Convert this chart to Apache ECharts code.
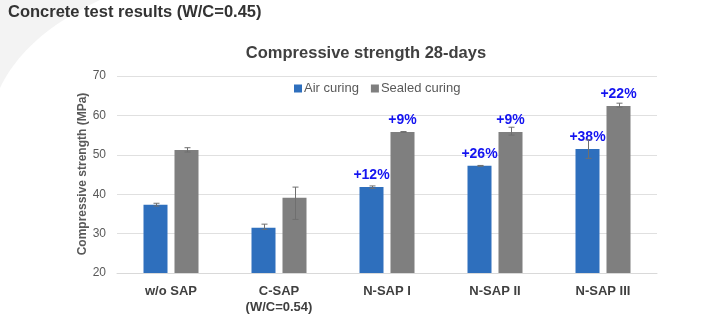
<!DOCTYPE html>
<html>
<head>
<meta charset="utf-8">
<script src="https://cdn.jsdelivr.net/npm/echarts@6/dist/echarts.min.js"></script>
<style>
  html, body { margin: 0; padding: 0; background: #ffffff; }
  #chart { width: 716px; height: 332px; }
</style>
</head>
<body>
<div id="chart"></div>
<script>
// Mix designs tested
const categories = ['w/o SAP', 'C-SAP\n(W/C=0.54)', 'N-SAP I', 'N-SAP II', 'N-SAP III'];

// Mean 28-day compressive strength (MPa)
const airCuring = [37.3, 31.5, 41.8, 47.2, 51.5];
const sealedCuring = [51.2, 39.1, 55.8, 55.8, 62.4];

// Error bar extents (MPa above / below the mean)
const airErrUp = [0.4, 0.9, 0.3, 0.1, 2.3];
const airErrDown = [0.3, 0.4, 0.3, 0.1, 2.4];
const sealedErrUp = [0.6, 2.7, 0.1, 1.2, 0.7];
const sealedErrDown = [0.5, 5.5, 0.1, 0.8, 0.3];

// Gain labels relative to the reference mix
const airGain = ['', '', '+12%', '+26%', '+38%'];
const sealedGain = ['', '', '+9%', '+9%', '+22%'];

// Value axis ticks
const yTicks = [20, 30, 40, 50, 60, 70];

const BAR_W = 24;
const BAR_GAP = 7;
const BLUE = '#2e6fbd';
const GRAY = '#7f7f7f';
const FONT = 'Liberation Sans, Arial, sans-serif';

const chart = echarts.init(document.getElementById('chart'), null, { renderer: 'canvas' });

// Soft corner swoosh in the page background (quadratic curve sampled into a polygon)
function swooshPoints() {
  const p0 = [100, 0], c = [25, 35], p2 = [0, 88];
  const pts = [[0, 0]];
  for (let k = 0; k <= 24; k++) {
    const t = k / 24, u = 1 - t;
    pts.push([
      u * u * p0[0] + 2 * u * t * c[0] + t * t * p2[0],
      u * u * p0[1] + 2 * u * t * c[1] + t * t * p2[1]
    ]);
  }
  return pts;
}

function errorSeries(name, values, up, down, side) {
  return {
    type: 'custom',
    name: name,
    z: 5,
    silent: true,
    data: values.map((v, i) => [i, v - down[i], v + up[i]]),
    renderItem: function (params, api) {
      const offset = side * (BAR_W + BAR_GAP) / 2;
      const lo = api.coord([api.value(0), api.value(1)]);
      const hi = api.coord([api.value(0), api.value(2)]);
      const x = Math.round(lo[0] + offset) + 0.5;
      const cap = 3;
      const style = { stroke: '#6f6f6f', lineWidth: 1 };
      return {
        type: 'group',
        children: [
          { type: 'line', shape: { x1: x, y1: lo[1], x2: x, y2: hi[1] }, style: style },
          { type: 'line', shape: { x1: x - cap, y1: hi[1], x2: x + cap, y2: hi[1] }, style: style },
          { type: 'line', shape: { x1: x - cap, y1: lo[1], x2: x + cap, y2: lo[1] }, style: style }
        ]
      };
    }
  };
}

const gainLabel = (texts) => ({
  show: true,
  position: 'top',
  distance: 5,
  formatter: (p) => texts[p.dataIndex],
  color: '#1414f0',
  fontFamily: FONT,
  fontWeight: 'bold',
  fontSize: 14
});

chart.setOption({
  backgroundColor: '#ffffff',
  animation: false,
  textStyle: { fontFamily: FONT },
  graphic: [
    {
      type: 'polygon',
      z: -10,
      silent: true,
      shape: { points: swooshPoints() },
      style: { fill: '#f3f3f3' }
    },
    {
      type: 'text',
      x: 8,
      y: 12.5,
      style: {
        text: 'Concrete test results (W/C=0.45)',
        font: 'bold 16.5px ' + FONT,
        fill: '#333333',
        verticalAlign: 'middle'
      }
    },
    {
      type: 'text',
      x: 366,
      y: 53,
      style: {
        text: 'Compressive strength 28-days',
        font: 'bold 16.5px ' + FONT,
        fill: '#404040',
        align: 'center',
        verticalAlign: 'middle'
      }
    },
    {
      // value axis title
      type: 'text',
      x: 83,
      y: 174,
      rotation: Math.PI / 2,
      style: {
        text: 'Compressive strength (MPa)',
        font: 'bold 12px ' + FONT,
        fill: '#595959',
        align: 'center',
        verticalAlign: 'middle'
      }
    }
  ],
  legend: {
    data: ['Air curing', 'Sealed curing'],
    left: 289,
    top: 77,
    itemWidth: 8,
    itemHeight: 8,
    itemGap: 12,
    icon: 'rect',
    textStyle: { color: '#595959', fontSize: 13, padding: [0, 0, 0, -3] }
  },
  grid: { left: 117, right: 59, top: 76, bottom: 59 },
  xAxis: {
    type: 'category',
    data: categories,
    axisLine: { lineStyle: { color: '#d9d9d9' } },
    axisTick: { show: false },
    axisLabel: {
      color: '#404040',
      fontWeight: 'bold',
      fontSize: 13,
      lineHeight: 16,
      margin: 10
    }
  },
  yAxis: {
    type: 'value',
    min: yTicks[0],
    max: yTicks[yTicks.length - 1],
    interval: 10,
    axisLine: { show: false },
    axisTick: { show: false },
    axisLabel: { color: '#595959', fontSize: 12, margin: 11 },
    splitLine: { lineStyle: { color: '#e0e0e0' } }
  },
  series: [
    {
      name: 'Air curing',
      type: 'bar',
      data: airCuring,
      barWidth: BAR_W,
      barGap: (BAR_GAP / BAR_W * 100) + '%',
      itemStyle: { color: BLUE },
      label: gainLabel(airGain)
    },
    {
      name: 'Sealed curing',
      type: 'bar',
      data: sealedCuring,
      barWidth: BAR_W,
      itemStyle: { color: GRAY },
      label: gainLabel(sealedGain)
    },
    errorSeries('airErr', airCuring, airErrUp, airErrDown, -1),
    errorSeries('sealedErr', sealedCuring, sealedErrUp, sealedErrDown, 1)
  ]
});
</script>
</body>
</html>
